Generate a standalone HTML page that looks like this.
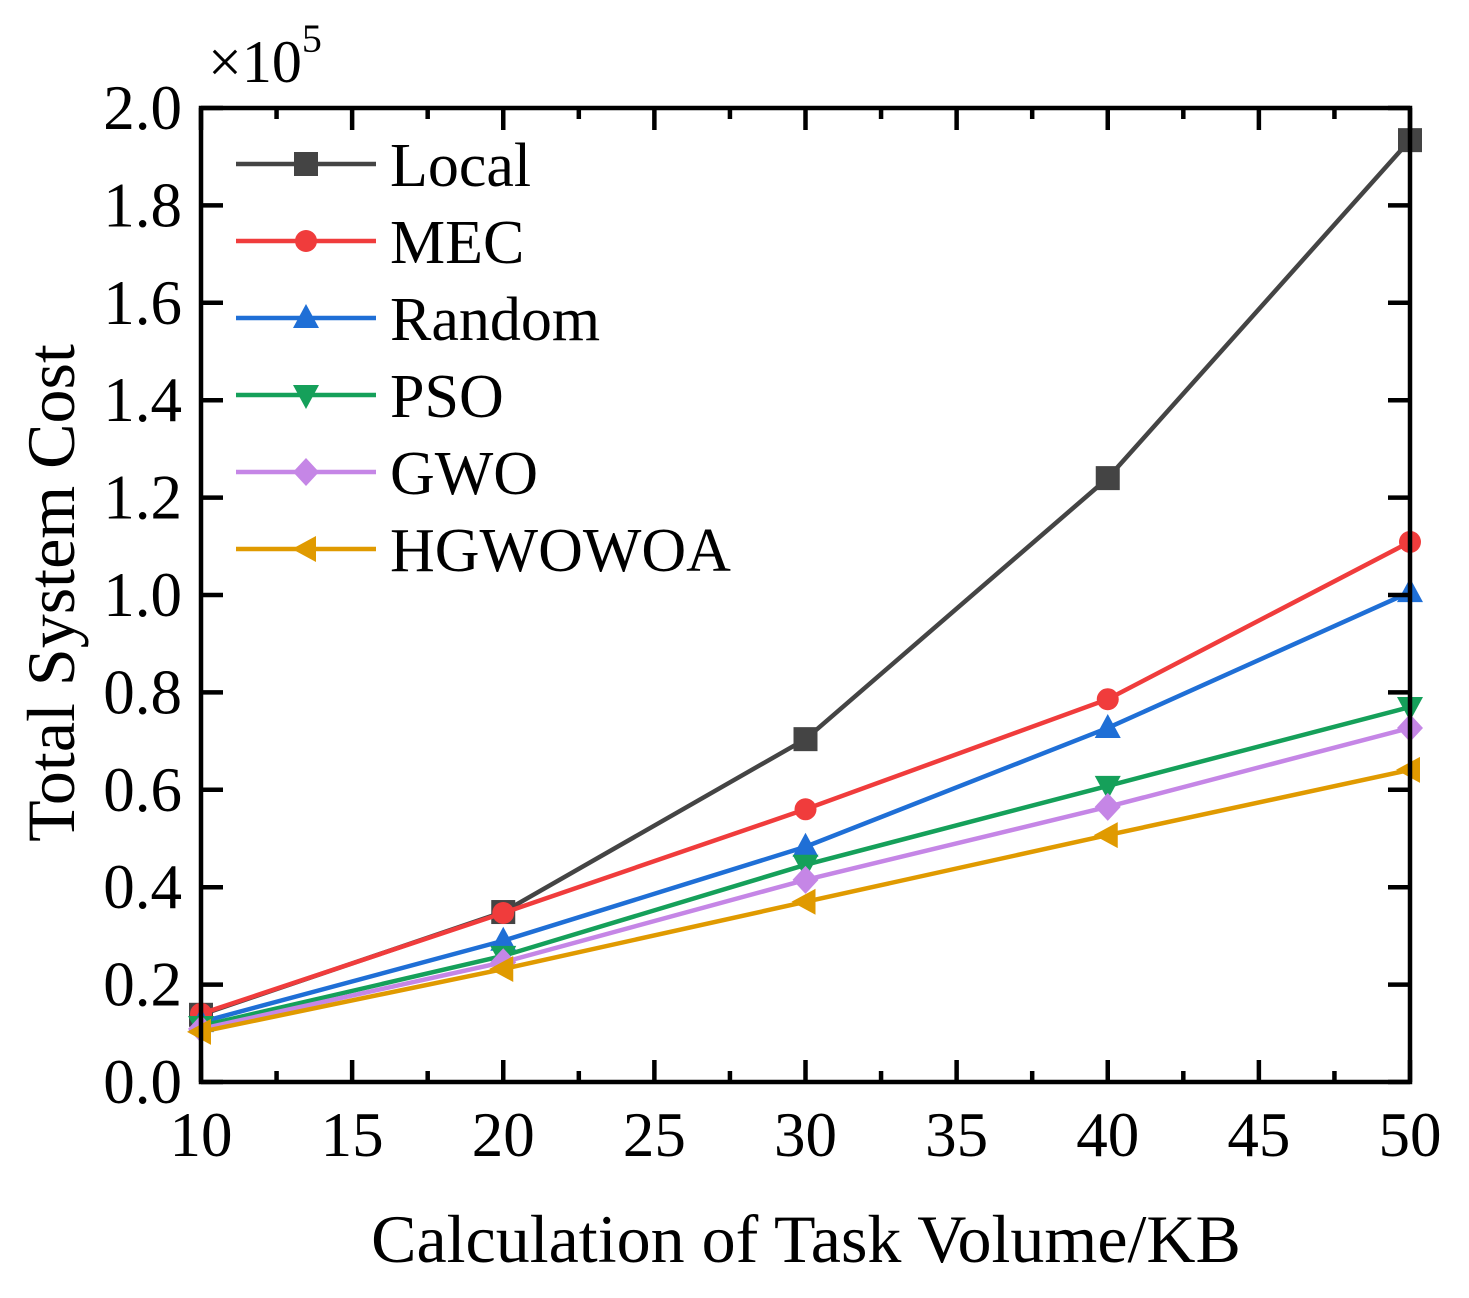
<!DOCTYPE html>
<html><head><meta charset="utf-8"><style>
body{margin:0;background:#fff}
svg{display:block;font-family:"Liberation Serif",serif}
</style></head><body>
<svg id="chart" width="1469" height="1298" viewBox="0 0 1469 1298" xmlns="http://www.w3.org/2000/svg">
<g id="grid"></g>
<g id="series"></g>
<g id="axes"></g>
<g id="legend"></g>
</svg>
<script>
const categories=[10,20,30,40,50];
const localVals=[0.138,0.349,0.704,1.240,1.934];
const mecVals=[0.140,0.347,0.560,0.786,1.109];
const randomVals=[0.123,0.290,0.483,0.727,1.006];
const psoVals=[0.115,0.259,0.446,0.608,0.770];
const gwoVals=[0.109,0.246,0.415,0.565,0.727];
const hgwoVals=[0.103,0.232,0.370,0.507,0.641];
const seriesNames=["Local","MEC","Random","PSO","GWO","HGWOWOA"];
const xTicks=[10,15,20,25,30,35,40,45,50];
const yTicks=["0.0","0.2","0.4","0.6","0.8","1.0","1.2","1.4","1.6","1.8","2.0"];

const NS="http://www.w3.org/2000/svg";
const L=201,R=1410,T=108,B=1082;
const xs=v=>L+(v-10)/40*(R-L);
const ys=v=>B-v/2.0*(B-T);
function mk(tag,attrs,parent){const e=document.createElementNS(NS,tag);for(const k in attrs)e.setAttribute(k,attrs[k]);parent.appendChild(e);return e;}
const axes=document.getElementById('axes'),ser=document.getElementById('series'),leg=document.getElementById('legend');
const colors=["#444444","#f03c3c","#1f6fd6","#15a05a","#c586e6","#e09a00"];
const markers=["square","circle","up","down","diamond","left"];
const data=[localVals,mecVals,randomVals,psoVals,gwoVals,hgwoVals];

function marker(type,x,y,c,parent,name){
  let e;const s=12;
  if(type==="square")e=mk('rect',{x:x-s,y:y-s,width:2*s,height:2*s,fill:c},parent);
  else if(type==="circle")e=mk('circle',{cx:x,cy:y,r:11,fill:c},parent);
  else{let p;
    if(type==="up")p=[[x,y-14],[x+13,y+10],[x-13,y+10]];
    if(type==="down")p=[[x,y+14],[x+13,y-10],[x-13,y-10]];
    if(type==="diamond")p=[[x,y-14],[x+13,y],[x,y+14],[x-13,y]];
    if(type==="left")p=[[x-14,y],[x+10,y-13],[x+10,y+13]];
    e=mk('polygon',{points:p.map(q=>q.join(',')).join(' '),fill:c},parent);}
  
  
}

data.forEach((vals,i)=>{
  const g=mk('g',{},ser);
  
  
  const pl=mk('polyline',{points:vals.map((v,j)=>xs(categories[j])+','+ys(v)).join(' '),fill:'none',stroke:colors[i],'stroke-width':4.5},g);
  
  
  vals.forEach((v,j)=>marker(markers[i],xs(categories[j]),ys(v),colors[i],g,'point-'+seriesNames[i].toLowerCase()+'-'+categories[j]));
});

const fr=mk('rect',{x:L,y:T,width:R-L,height:B-T,fill:'none',stroke:'#000','stroke-width':4.5},axes);


for(let v=10;v<=50;v+=2.5){
  const major=(v%5===0),len=major?22:11,x=xs(v);
  mk('line',{x1:x,y1:B,x2:x,y2:B-len,stroke:'#000','stroke-width':4.5},axes);
  mk('line',{x1:x,y1:T,x2:x,y2:T+len,stroke:'#000','stroke-width':4.5},axes);
}
xTicks.forEach(v=>{
  const t=mk('text',{x:xs(v),y:1156,'font-size':63,'text-anchor':'middle'},axes);t.textContent=v;
  
  
});
yTicks.forEach(s=>{
  const v=parseFloat(s),y=ys(v);
  mk('line',{x1:L,y1:y,x2:L+22,y2:y,stroke:'#000','stroke-width':4.5},axes);
  mk('line',{x1:R,y1:y,x2:R-22,y2:y,stroke:'#000','stroke-width':4.5},axes);
  const t=mk('text',{x:182,y:y+21,'font-size':63,'text-anchor':'end'},axes);t.textContent=s;
  
  
});
let t=mk('text',{x:806,y:1262,'font-size':68,'text-anchor':'middle'},axes);t.textContent="Calculation of Task Volume/KB";


t=mk('text',{x:0,y:0,'font-size':68,'text-anchor':'middle',transform:'translate(74,593) rotate(-90)'},axes);t.textContent="Total System Cost";


t=mk('text',{x:208,y:82,'font-size':60},axes);t.textContent="×10";


const sup=mk('tspan',{dy:-30,'font-size':40},t);sup.textContent="5";

seriesNames.forEach((n,i)=>{
  const y=164+i*77;
  const g=mk('g',{},leg);
  
  
  mk('line',{x1:236,y1:y,x2:376,y2:y,stroke:colors[i],'stroke-width':4.5},g);
  marker(markers[i],306,y,colors[i],g,'legend-marker');
  const tx=mk('text',{x:390,y:y+22,'font-size':62},g);tx.textContent=n;
});
</script>
</body></html>
